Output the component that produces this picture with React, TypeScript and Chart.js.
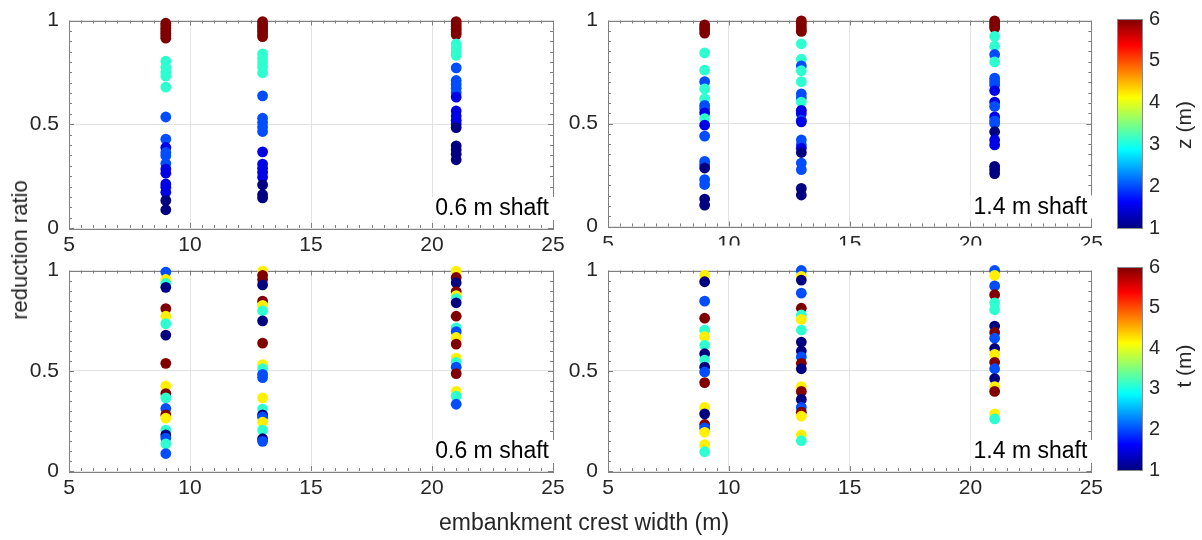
import React, { useEffect, useRef } from 'react';
import { Chart, registerables } from 'chart.js';

Chart.register(...registerables);

// ---------------- data ----------------
const crestWidths = [9, 13, 21];
const xTicksRange = [5, 25];
const yTicksRange = [0, 1];
const colourRange = [1, 6];

// 0.6 m shaft, coloured by z (m)
const s06z_w9_ratio = [0.987, 0.976, 0.963, 0.951, 0.939, 0.927, 0.915, 0.804, 0.775, 0.752, 0.732, 0.679, 0.535, 0.428, 0.388, 0.364, 0.348, 0.311, 0.284, 0.264, 0.212, 0.196, 0.172, 0.133, 0.088];
const s06z_w9_z = [6, 6, 6, 6, 6, 6, 6, 3.1, 3.1, 3.1, 3.1, 3.1, 2, 2, 1.5, 2, 2, 2, 1.5, 1.5, 1.5, 1.5, 1.5, 1, 1];
const s06z_w13_ratio = [0.995, 0.983, 0.972, 0.96, 0.948, 0.935, 0.922, 0.839, 0.816, 0.796, 0.775, 0.748, 0.637, 0.529, 0.508, 0.487, 0.465, 0.367, 0.308, 0.288, 0.268, 0.244, 0.208, 0.161, 0.145];
const s06z_w13_z = [6, 6, 6, 6, 6, 6, 6, 3.1, 3.1, 3.1, 3.1, 3.1, 2, 2, 2, 2, 2, 1.5, 1.5, 1.5, 1.5, 1.5, 1, 1, 1];
const s06z_w21_ratio = [0.995, 0.983, 0.971, 0.958, 0.945, 0.932, 0.887, 0.867, 0.848, 0.832, 0.772, 0.711, 0.692, 0.673, 0.652, 0.631, 0.564, 0.54, 0.519, 0.503, 0.484, 0.396, 0.377, 0.356, 0.329];
const s06z_w21_z = [6, 6, 6, 6, 6, 6, 3.1, 3.1, 3.1, 3.1, 2, 2, 2, 2, 2, 1.5, 1.5, 1.5, 1.5, 1.5, 1, 1, 1, 1, 1];

// 1.4 m shaft, coloured by z (m)
const s14z_w9_ratio = [0.979, 0.966, 0.955, 0.939, 0.843, 0.759, 0.703, 0.668, 0.62, 0.588, 0.572, 0.551, 0.524, 0.492, 0.439, 0.316, 0.3, 0.284, 0.228, 0.204, 0.133, 0.104];
const s14z_w9_z = [6, 6, 6, 6, 3.1, 3.1, 2, 3.1, 3.1, 2, 2, 1.5, 3.1, 1.5, 2, 2, 2, 1, 2, 2, 1, 1];
const s14z_w13_ratio = [0.998, 0.985, 0.97, 0.955, 0.947, 0.887, 0.812, 0.78, 0.756, 0.703, 0.644, 0.625, 0.604, 0.564, 0.548, 0.516, 0.508, 0.42, 0.396, 0.38, 0.359, 0.308, 0.276, 0.185, 0.153];
const s14z_w13_z = [6, 6, 6, 6, 6, 3.1, 3.1, 2, 3.1, 3.1, 2, 2, 3.1, 1.5, 1.5, 2, 1.5, 2, 2, 1.5, 1, 2, 2, 1, 1];
const s14z_w21_ratio = [0.998, 0.986, 0.974, 0.963, 0.923, 0.875, 0.835, 0.799, 0.72, 0.703, 0.687, 0.66, 0.604, 0.583, 0.532, 0.513, 0.5, 0.46, 0.42, 0.396, 0.292, 0.276, 0.257];
const s14z_w21_z = [6, 6, 6, 6, 3.1, 3.1, 2, 3.1, 2, 2, 2, 1.5, 1.5, 2, 1.5, 2, 2, 1, 1.5, 1.5, 1, 1, 1];

// 0.6 m shaft, coloured by t (m)
const s06t_w9_ratio = [0.992, 0.955, 0.936, 0.916, 0.81, 0.772, 0.735, 0.678, 0.537, 0.424, 0.386, 0.365, 0.312, 0.28, 0.264, 0.204, 0.18, 0.164, 0.135, 0.087];
const s06t_w9_t = [2, 4.2, 3.1, 1, 6, 4.2, 3.1, 1, 6, 4.2, 6, 3.1, 2, 6, 4.2, 3.1, 1, 2, 3.1, 2];
const s06t_w13_ratio = [0.997, 0.976, 0.955, 0.928, 0.847, 0.826, 0.799, 0.749, 0.638, 0.531, 0.51, 0.482, 0.466, 0.365, 0.309, 0.28, 0.268, 0.244, 0.204, 0.161, 0.148];
const s06t_w13_t = [4.2, 6, 6, 1, 6, 4.2, 3.1, 1, 6, 4.2, 3.1, 2, 2, 4.2, 3.1, 1, 2, 4.2, 3.1, 1, 2];
const s06t_w21_ratio = [0.997, 0.965, 0.939, 0.895, 0.875, 0.859, 0.839, 0.772, 0.714, 0.695, 0.666, 0.633, 0.563, 0.542, 0.518, 0.486, 0.397, 0.373, 0.333];
const s06t_w21_t = [4.2, 6, 1, 6, 4.2, 3.1, 1, 6, 3.1, 2, 4.2, 6, 4.2, 3.1, 2, 6, 4.2, 3.1, 2];

// 1.4 m shaft, coloured by t (m)
const s14t_w9_ratio = [0.976, 0.944, 0.847, 0.762, 0.703, 0.67, 0.627, 0.585, 0.553, 0.518, 0.494, 0.441, 0.317, 0.285, 0.232, 0.215, 0.193, 0.132, 0.096];
const s14t_w9_t = [4.2, 1, 2, 6, 3.1, 4.2, 3.1, 1, 3.1, 1, 2, 6, 4.2, 1, 6, 2, 4.2, 4.2, 3.1];
const s14t_w13_ratio = [1.0, 0.971, 0.952, 0.887, 0.812, 0.778, 0.756, 0.703, 0.643, 0.598, 0.569, 0.537, 0.51, 0.421, 0.397, 0.357, 0.317, 0.293, 0.273, 0.18, 0.151];
const s14t_w13_t = [2, 4.2, 1, 2, 6, 3.1, 4.2, 3.1, 1, 1, 2, 6, 1, 4.2, 6, 1, 2, 6, 4.2, 4.2, 3.1];
const s14t_w21_ratio = [1.0, 0.976, 0.923, 0.879, 0.839, 0.804, 0.723, 0.691, 0.662, 0.611, 0.582, 0.542, 0.51, 0.461, 0.421, 0.397, 0.285, 0.26];
const s14t_w21_t = [2, 4.2, 2, 6, 3.1, 3.1, 1, 6, 2, 1, 4.2, 6, 2, 1, 4.2, 6, 4.2, 3.1];

const panelLabels = ['0.6 m shaft', '1.4 m shaft', '0.6 m shaft', '1.4 m shaft'];
const colourbarTitles = ['z (m)', 't (m)'];
const yTitle = 'reduction ratio';
const xTitle = 'embankment crest width (m)';

// ---------------- styling ----------------
const TEXT = '#262626';
const FONT = "'Liberation Sans', Arial, Helvetica, sans-serif";
const TICK_FONT = 21;

function jet(v: number): string {
  const f = (v - colourRange[0]) / (colourRange[1] - colourRange[0]);
  const c = (t: number) => Math.round(255 * Math.min(1, Math.max(0, t)));
  return `rgb(${c(1.5 - Math.abs(4 * f - 3))},${c(1.5 - Math.abs(4 * f - 2))},${c(1.5 - Math.abs(4 * f - 1))})`;
}

type Series = { width: number; ratio: number[]; colour: number[] };

const boxPlugin = {
  id: 'boxTicks',
  beforeDatasetsDraw(chart: any) {
    const { ctx, chartArea: a, scales } = chart;
    const x = scales.x;
    const y = scales.y;
    ctx.save();
    ctx.strokeStyle = '#808080';
    ctx.lineWidth = 1;
    ctx.beginPath();
    for (let i = 0; i <= 40; i++) {
      const v = xTicksRange[0] + i * 0.5;
      const px = Math.round(x.getPixelForValue(v)) + 0.5;
      const len = i % 10 === 0 ? 5 : 3;
      ctx.moveTo(px, a.bottom);
      ctx.lineTo(px, a.bottom - len);
      ctx.moveTo(px, a.top);
      ctx.lineTo(px, a.top + len);
    }
    for (let i = 0; i <= 20; i++) {
      const v = yTicksRange[0] + i * 0.05;
      const py = Math.round(y.getPixelForValue(v)) + 0.5;
      const len = i % 10 === 0 ? 5 : 3;
      ctx.moveTo(a.left, py);
      ctx.lineTo(a.left + len, py);
      ctx.moveTo(a.right, py);
      ctx.lineTo(a.right - len, py);
    }
    ctx.stroke();
    ctx.strokeRect(Math.round(a.left) + 0.5, Math.round(a.top) + 0.5, Math.round(a.right - a.left), Math.round(a.bottom - a.top));
    ctx.restore();
  },
  afterDatasetsDraw(chart: any, _args: any, opts: any) {
    const { ctx, chartArea: a } = chart;
    if (!opts || !opts.text) return;
    ctx.save();
    ctx.font = `23px ${FONT}`;
    const w = ctx.measureText(opts.text).width;
    const right = a.right - 4;
    const cy = a.bottom - 19;
    ctx.fillStyle = '#ffffff';
    ctx.fillRect(right - w - 3, cy - 12, w + 9, 23);
    ctx.fillStyle = '#000000';
    ctx.textAlign = 'right';
    ctx.textBaseline = 'middle';
    ctx.fillText(opts.text, right, cy);
    ctx.restore();
  },
};

const colourbarPlugin = {
  id: 'colourbar',
  beforeDatasetsDraw(chart: any) {
    const { ctx, chartArea: a } = chart;
    const g = ctx.createLinearGradient(0, a.bottom, 0, a.top);
    [0, 1 / 8, 3 / 8, 5 / 8, 7 / 8, 1].forEach((f) => {
      g.addColorStop(f, jet(colourRange[0] + f * (colourRange[1] - colourRange[0])));
    });
    ctx.save();
    ctx.fillStyle = g;
    ctx.fillRect(a.left, a.top, a.right - a.left, a.bottom - a.top);
    ctx.strokeStyle = '#8a8a8a';
    ctx.lineWidth = 1;
    ctx.strokeRect(Math.round(a.left) + 0.5, Math.round(a.top) + 0.5, Math.round(a.right - a.left), Math.round(a.bottom - a.top));
    ctx.restore();
  },
};

const plainNumber = (v: any) => `${+v}`;

function panelConfig(series: Series[], label: string, yWidth: number, xHeight: number, padding: any) {
  const pts: { x: number; y: number }[] = [];
  const cols: string[] = [];
  series.forEach((s) =>
    s.ratio.forEach((r, i) => {
      pts.push({ x: s.width, y: r });
      cols.push(jet(s.colour[i]));
    })
  );
  return {
    type: 'scatter',
    data: {
      datasets: [
        {
          data: pts,
          pointBackgroundColor: cols,
          pointBorderWidth: 0,
          pointRadius: 5.4,
          pointHoverRadius: 5.4,
          clip: false,
        },
      ],
    },
    options: {
      animation: false,
      responsive: false,
      devicePixelRatio: 1,
      events: [],
      layout: { padding },
      plugins: { legend: { display: false }, tooltip: { enabled: false }, boxTicks: { text: label } },
      scales: {
        x: {
          type: 'linear',
          min: xTicksRange[0],
          max: xTicksRange[1],
          ticks: { stepSize: 5, autoSkip: false, maxRotation: 0, padding: 7, color: TEXT, callback: plainNumber, font: { size: TICK_FONT, family: FONT, lineHeight: 1 } },
          grid: { color: '#e3e3e3', drawTicks: false },
          border: { display: false },
          afterFit: (s: any) => {
            s.height = xHeight;
          },
        },
        y: {
          type: 'linear',
          min: yTicksRange[0],
          max: yTicksRange[1],
          ticks: { stepSize: 0.5, autoSkip: false, padding: 10, color: TEXT, callback: plainNumber, font: { size: TICK_FONT, family: FONT, lineHeight: 1 } },
          grid: { color: '#e3e3e3', drawTicks: false },
          border: { display: false },
          afterFit: (s: any) => {
            s.width = yWidth;
          },
        },
      },
    },
    plugins: [boxPlugin],
  };
}

function colourbarConfig(padding: any) {
  return {
    type: 'scatter',
    data: { datasets: [{ data: [] as any[] }] },
    options: {
      animation: false,
      responsive: false,
      devicePixelRatio: 1,
      events: [],
      layout: { padding },
      plugins: { legend: { display: false }, tooltip: { enabled: false } },
      scales: {
        x: { display: false, min: 0, max: 1 },
        y: {
          position: 'right',
          min: colourRange[0],
          max: colourRange[1],
          ticks: { stepSize: 1, padding: 7, color: TEXT, callback: plainNumber, font: { size: 20, family: FONT, lineHeight: 1 } },
          grid: { display: false, drawTicks: false },
          border: { display: false },
          afterFit: (s: any) => {
            s.width = 60;
          },
        },
      },
    },
    plugins: [colourbarPlugin],
  };
}

function ChartBox(props: { left: number; top: number; width: number; height: number; make: () => any }) {
  const ref = useRef<HTMLCanvasElement | null>(null);
  useEffect(() => {
    if (!ref.current) return;
    const chart = new Chart(ref.current, props.make());
    return () => chart.destroy();
  }, []);
  return (
    <canvas
      ref={ref}
      width={props.width}
      height={props.height}
      style={{ position: 'absolute', left: props.left, top: props.top, width: props.width, height: props.height }}
    />
  );
}

const s06z: Series[] = [
  { width: crestWidths[0], ratio: s06z_w9_ratio, colour: s06z_w9_z },
  { width: crestWidths[1], ratio: s06z_w13_ratio, colour: s06z_w13_z },
  { width: crestWidths[2], ratio: s06z_w21_ratio, colour: s06z_w21_z },
];
const s14z: Series[] = [
  { width: crestWidths[0], ratio: s14z_w9_ratio, colour: s14z_w9_z },
  { width: crestWidths[1], ratio: s14z_w13_ratio, colour: s14z_w13_z },
  { width: crestWidths[2], ratio: s14z_w21_ratio, colour: s14z_w21_z },
];
const s06t: Series[] = [
  { width: crestWidths[0], ratio: s06t_w9_ratio, colour: s06t_w9_t },
  { width: crestWidths[1], ratio: s06t_w13_ratio, colour: s06t_w13_t },
  { width: crestWidths[2], ratio: s06t_w21_ratio, colour: s06t_w21_t },
];
const s14t: Series[] = [
  { width: crestWidths[0], ratio: s14t_w9_ratio, colour: s14t_w9_t },
  { width: crestWidths[1], ratio: s14t_w13_ratio, colour: s14t_w13_t },
  { width: crestWidths[2], ratio: s14t_w21_ratio, colour: s14t_w21_t },
];

export default function App() {
  const textStyle: any = { position: 'absolute', color: TEXT, fontFamily: FONT, whiteSpace: 'nowrap', lineHeight: 1 };
  return (
    <div style={{ position: 'absolute', left: 0, top: 0, width: 1202, height: 540, background: '#fff', overflow: 'hidden' }}>
      <ChartBox left={0} top={0} width={600} height={262} make={() => panelConfig(s06z, panelLabels[0], 69, 34, { top: 19, right: 47, left: 0, bottom: 0 })} />
      <ChartBox left={540} top={0} width={570} height={247} make={() => panelConfig(s14z, panelLabels[1], 68, 19, { top: 19, right: 16, left: 0, bottom: 0 })} />
      <ChartBox left={0} top={250} width={600} height={260} make={() => panelConfig(s06t, panelLabels[2], 69, 39, { top: 13, right: 47, left: 0, bottom: 0 })} />
      <ChartBox left={540} top={250} width={570} height={260} make={() => panelConfig(s14t, panelLabels[3], 68, 39, { top: 13, right: 16, left: 0, bottom: 0 })} />
      <ChartBox left={1100} top={0} width={102} height={262} make={() => colourbarConfig({ top: 19, left: 17, right: 0, bottom: 34 })} />
      <ChartBox left={1100} top={250} width={102} height={260} make={() => colourbarConfig({ top: 12, left: 17, right: 0, bottom: 40 })} />
      <div style={{ ...textStyle, left: 20, top: 250, fontSize: 22, transform: 'translate(-50%, -50%) rotate(-90deg)' }}>{yTitle}</div>
      <div style={{ ...textStyle, left: 584, top: 522, fontSize: 23, transform: 'translate(-50%, -50%)' }}>{xTitle}</div>
      <div style={{ ...textStyle, left: 1183, top: 125, fontSize: 21, transform: 'translate(-50%, -50%) rotate(-90deg)' }}>{colourbarTitles[0]}</div>
      <div style={{ ...textStyle, left: 1183, top: 366, fontSize: 21, transform: 'translate(-50%, -50%) rotate(-90deg)' }}>{colourbarTitles[1]}</div>
    </div>
  );
}
